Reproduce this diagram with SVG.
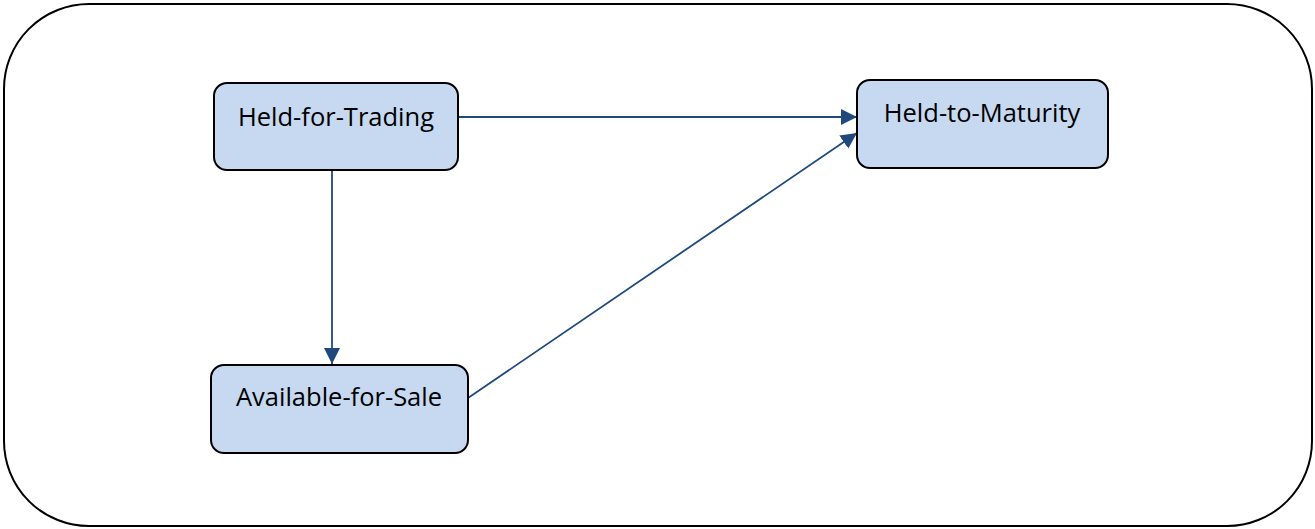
<svg xmlns="http://www.w3.org/2000/svg" width="1315" height="529" viewBox="0 0 1315 529">
<style>
.frame{fill:#fff;stroke:#000;stroke-width:2}
.node rect{fill:#c6d9f1;stroke:#000;stroke-width:2}
.node text{font-family:"Open Sans","Noto Sans",sans-serif;font-size:25.5px;fill:#000;text-anchor:middle}
.edge{stroke:#1f497d;stroke-width:1.8;fill:none;marker-end:url(#arr)}
</style>
<defs>
<marker id="arr" markerUnits="userSpaceOnUse" markerWidth="18" markerHeight="18" viewBox="0 0 18 18" refX="16" refY="9" orient="auto">
<path d="M0,1 L16,9 L0,17 Z" fill="#1f497d"/>
</marker>
</defs>
<rect class="frame" x="4" y="4" width="1308" height="522" rx="85" ry="85"/>
<g id="connectors">
<line class="edge" x1="458" y1="117" x2="857" y2="117"/>
<line class="edge" x1="332" y1="170" x2="332" y2="364"/>
<line class="edge" x1="468" y1="398" x2="857" y2="133"/>
</g>
<g id="held-for-trading" class="node">
<rect x="214" y="83" width="244" height="87" rx="13" ry="13"/>
<text x="336" y="126">Held-for-Trading</text>
</g>
<g id="held-to-maturity" class="node">
<rect x="857" y="80" width="251" height="88" rx="13" ry="13"/>
<text x="982" y="122">Held-to-Maturity</text>
</g>
<g id="available-for-sale" class="node">
<rect x="211" y="365" width="257" height="88" rx="13" ry="13"/>
<text x="339" y="406">Available-for-Sale</text>
</g>
</svg>
